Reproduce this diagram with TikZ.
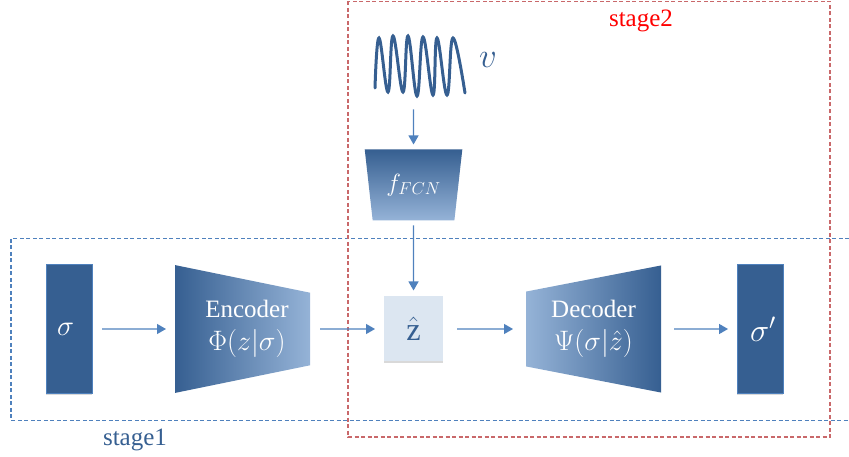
\documentclass[tikz,border=0pt]{standalone}
\usepackage{fontspec}
\setmainfont{Liberation Serif}
\usetikzlibrary{positioning,shapes.geometric,shadows,arrows.meta}
\DeclareMathSizes{25}{25}{18}{14}
\definecolor{darkblue}{HTML}{365F91}
\definecolor{midblue}{HTML}{4F81BD}
\definecolor{lightblue}{HTML}{95B3D7}
\definecolor{paleblue}{HTML}{DCE6F1}
\definecolor{stagered}{HTML}{C9686A}
\newcommand{\bigmath}[2][1.13]{\scalebox{#1}{$#2$}}
\begin{document}
\begin{tikzpicture}[
        x=1pt, y=-1pt,
        every node/.style={align=center, font=\fontsize{25}{33}\selectfont, text=white, outer sep=0pt, inner sep=0pt},
        block/.style={rectangle, draw=midblue, fill=darkblue, line width=1pt, minimum width=46pt, minimum height=128pt, drop shadow={shadow xshift=0pt, shadow yshift=-2pt, opacity=.3}},
        latent/.style={rectangle, fill=paleblue, text=darkblue, minimum width=59pt, minimum height=65pt, drop shadow={shadow xshift=0pt, shadow yshift=-2pt, opacity=.3}},
        coder/.style={trapezium, trapezium stretches=true, trapezium angle=76.7, minimum width=128pt, minimum height=135pt},
        encoder/.style={coder, shape border rotate=270, left color=darkblue, middle color=midblue, right color=lightblue},
        decoder/.style={coder, shape border rotate=90, left color=lightblue, middle color=midblue, right color=darkblue},
        mapping/.style={trapezium, trapezium stretches=true, trapezium angle=76.5, shape border rotate=180, minimum width=98pt, minimum height=71pt, top color=darkblue, middle color=midblue, bottom color=lightblue},
        arrow/.style={-{Triangle[length=9pt,width=10pt]}, draw=midblue, line width=1.2pt},
        stagebox/.style={line width=1.1pt, dash pattern=on 4pt off 2.5pt}
    ]
    \useasboundingbox (0,0) rectangle (849,457);

    % Stages
    \draw [stagebox, draw=midblue] (849,238.5) -- (11,238.5) -- (11,420.5) -- (849,420.5);
    \draw [stagebox, draw=stagered] (348,1.5) rectangle (830,437);
    \node (stage1) at (135,440) [text=darkblue] {stage1};
    \node (stage2) at (641,21) [text=red] {stage2};

    % Nodes
    \node (sigma) at (69,329) [block] {\hspace{-7pt}\raisebox{-5pt}{\bigmath[1.15]{\sigma}}};
    \node (encoder) [encoder, right=83pt of sigma] {\hspace{9pt}Encoder\\\hspace{9pt}\bigmath{\Phi(z|\sigma)}};
    \node (zhat) [latent, right=74pt of encoder] {\bigmath[1.3]{\hat{\mathrm{z}}}};
    \node (decoder) [decoder, right=83pt of zhat] {Decoder\\\bigmath{\Psi(\sigma|\hat{z})}};
    \node (sigmap) [block, right=76pt of decoder] {\hspace{6pt}\bigmath[1.3]{\sigma'}};
    \node (fcn) [mapping, above=76pt of zhat] {$f_{FCN}$};
    \node (wave) [minimum width=90pt, minimum height=90pt, above=40pt of fcn] {};
    \node (v) at (488,60) [text=darkblue] {\bigmath[1.4]{v}};
    \draw [darkblue, line width=3pt, line cap=round] plot[smooth, tension=.7] coordinates {(375,88) (379,38) (388,92) (393,36) (403,92) (408,36) (417,96) (423,37) (433,95) (437,38) (447,95) (453,38) (465,93)};

    % Arrows
    \draw [arrow, shorten <=10pt, shorten >=9pt] (sigma) -- (encoder);
    \draw [arrow, shorten <=10pt, shorten >=9pt] (encoder) -- (zhat);
    \draw [arrow, shorten <=14pt, shorten >=13pt] (zhat) -- (decoder);
    \draw [arrow, shorten <=13pt, shorten >=9pt] (decoder) -- (sigmap);
    \draw [arrow, shorten >=5pt] (wave) -- (fcn);
    \draw [arrow, shorten <=5pt, shorten >=6pt] (fcn) -- (zhat);

\end{tikzpicture}
\end{document}
